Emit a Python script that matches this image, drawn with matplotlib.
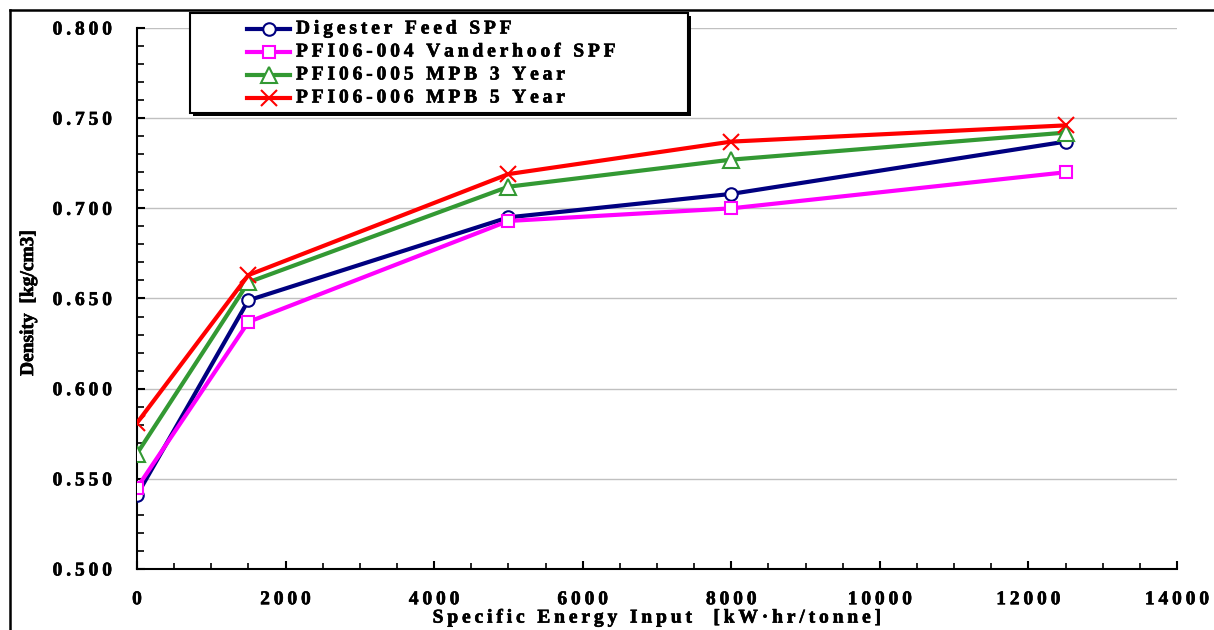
import matplotlib
matplotlib.use("Agg")
import matplotlib.pyplot as plt
import matplotlib.patheffects as pe
from matplotlib.lines import Line2D
from matplotlib.patches import Rectangle
from matplotlib.ticker import MultipleLocator, FuncFormatter
from matplotlib.transforms import Affine2D

# --- data -------------------------------------------------------------
energy = [0, 1500, 5000, 8000, 12500]

series_names = [
    "Digester Feed SPF",
    "PFI06-004 Vanderhoof SPF",
    "PFI06-005 MPB 3 Year",
    "PFI06-006 MPB 5 Year",
]
digester_feed = [0.541, 0.649, 0.695, 0.708, 0.737]
vanderhoof = [0.545, 0.637, 0.693, 0.700, 0.720]
mpb_3_year = [0.564, 0.659, 0.712, 0.727, 0.742]
mpb_5_year = [0.581, 0.663, 0.719, 0.737, 0.746]

series_values = [digester_feed, vanderhoof, mpb_3_year, mpb_5_year]
colors = ["#000080", "#FF00FF", "#339933", "#FF0000"]
markers = ["o", "s", "^", "x"]

x_label = "Specific Energy Input  [kW\u00b7hr/tonne]"
y_label = "Density  [kg/cm3]"

# --- styling ----------------------------------------------------------
FONT = "Liberation Serif"
FS = 14
W, H = 1214, 630
HEAVY = [pe.withStroke(linewidth=0.45, foreground="black")]


def spaced(s, sep="\u2009"):
    """Letter-spaced version of a string."""
    return sep.join(s)


plt.rcParams["font.family"] = [FONT, "DejaVu Serif"]
plt.rcParams["font.weight"] = "bold"

fig = plt.figure(figsize=(W / 100, H / 100), dpi=100)
fig.patch.set_facecolor("white")

ax = fig.add_axes([137 / W, 1 - 569 / H, 1040 / W, 541 / H])

for vals, col, mk in zip(series_values, colors, markers):
    ax.plot(
        energy, vals, color=col, lw=3, marker=mk,
        markersize=11 if mk in ("^", "x") else 9,
        markerfacecolor="white" if mk != "x" else col,
        markeredgecolor=col, markeredgewidth=1.5,
        solid_joinstyle="miter", zorder=3,
    )

ax.set_xlim(0, 14000)
ax.set_ylim(0.5, 0.8)

ax.xaxis.set_major_locator(MultipleLocator(2000))
ax.xaxis.set_minor_locator(MultipleLocator(500))
ax.yaxis.set_major_locator(MultipleLocator(0.05))
ax.yaxis.set_minor_locator(MultipleLocator(0.01))

ax.xaxis.set_major_formatter(FuncFormatter(lambda v, p: spaced(f"{v:.0f}")))
ax.yaxis.set_major_formatter(FuncFormatter(lambda v, p: spaced(f"{v:.3f}")))

ax.tick_params(axis="x", which="major", direction="in", length=6, width=1.5,
               pad=16, labelsize=FS)
ax.tick_params(axis="x", which="minor", direction="in", length=4, width=1.2)
ax.tick_params(axis="y", which="major", direction="in", length=6, width=1.5,
               pad=18, labelsize=FS)
ax.tick_params(axis="y", which="minor", direction="in", length=5, width=1.2)
for lab in ax.get_xticklabels() + ax.get_yticklabels():
    lab.set_fontweight("bold")
    lab.set_path_effects(HEAVY)

ax.grid(axis="y", which="major", color="#c0c0c0", lw=1)
ax.set_axisbelow(True)

for side in ("top", "right"):
    ax.spines[side].set_visible(False)
for side in ("left", "bottom"):
    ax.spines[side].set_linewidth(1.5)

ax.set_xlabel(spaced(x_label), fontsize=FS, fontweight="bold", va="top",
              path_effects=HEAVY)
ax.xaxis.set_label_coords(0.5, -0.075)
ax.set_ylabel(y_label, fontsize=FS, fontweight="bold", va="center",
              path_effects=HEAVY)
ax.yaxis.set_label_coords(-0.1043, 0.492)

# --- pixel-space helper for frame and legend -------------------------
px = Affine2D().scale(1 / W, -1 / H).translate(0, 1) + fig.transFigure

# outer chart frame (top and left edges)
fig.add_artist(Line2D([10, 10], [10, H + 5], transform=px, color="black", lw=1.8))
fig.add_artist(Line2D([10, W + 5], [10, 10], transform=px, color="black", lw=1.8))

# legend box with solid drop shadow
box_l, box_t, box_r, box_b = 190, 13, 688, 113
fig.add_artist(Rectangle((box_l + 3, box_t + 3), box_r - box_l, box_b - box_t,
                         transform=px, facecolor="black", edgecolor="black",
                         lw=0, zorder=5))
fig.add_artist(Rectangle((box_l, box_t), box_r - box_l, box_b - box_t,
                         transform=px, facecolor="white", edgecolor="black",
                         lw=1.5, zorder=6))

row_y = [29, 52, 75, 98]
for name, col, mk, yy in zip(series_names, colors, markers, row_y):
    fig.add_artist(Line2D([247, 290], [yy, yy], transform=px, color=col, lw=3,
                          zorder=7))
    fig.add_artist(Line2D([268.5], [yy], transform=px, color=col, lw=0,
                          marker=mk,
                          markersize=11 if mk in ("^", "x") else 9,
                          markerfacecolor="white" if mk != "x" else col,
                          markeredgecolor=col, markeredgewidth=1.5, zorder=8))
    fig.text(296 / W, 1 - yy / H, spaced(name), transform=fig.transFigure,
             fontsize=FS, fontweight="bold", va="center", ha="left", zorder=9,
             path_effects=HEAVY)

fig.savefig("out.png", dpi=100, facecolor="white")
